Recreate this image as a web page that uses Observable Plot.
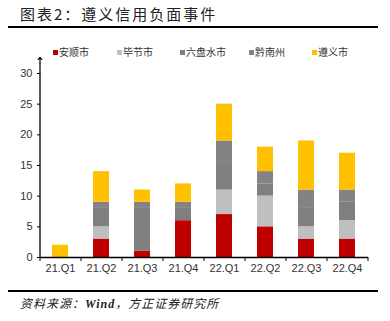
<!DOCTYPE html>
<html><head><meta charset="utf-8">
<script src="https://cdn.jsdelivr.net/npm/d3@7"></script>
<script src="https://cdn.jsdelivr.net/npm/@observablehq/plot@0.6"></script>
<style>
body{margin:0;width:390px;height:321px;position:relative;background:#fff;font-family:"Noto Sans CJK SC","Noto Sans",sans-serif;overflow:hidden}
#title{position:absolute;left:20px;top:3px;font-size:15px;letter-spacing:2px;color:#222;font-family:"Noto Sans CJK SC";}
.hr{position:absolute;left:8px;width:370px;height:2px;background:#000}
#legend{position:absolute;top:45px;left:0;width:390px;height:14px;font-size:10px;color:#333}
.li{position:absolute;top:0;white-space:nowrap;line-height:14px}
.sw{display:inline-block;width:5px;height:5px;margin-right:1px;vertical-align:1px}
#chart{position:absolute;left:0;top:55px}
#src{position:absolute;left:20px;top:294px;font-size:12px;font-style:italic;color:#222;font-family:"Noto Sans CJK SC","Liberation Serif",serif;letter-spacing:1px}
</style></head><body>
<div id="title">图表2：遵义信用负面事件</div>
<div class="hr" style="top:26px"></div>
<div id="legend"></div>
<div id="chart"></div>
<div class="hr" style="top:290px"></div>
<div id="src">资料来源：<span style="font-family:'Liberation Serif';font-weight:bold">Wind</span>，方正证券研究所</div>
<script>
const quarters = ["21.Q1","21.Q2","21.Q3","21.Q4","22.Q1","22.Q2","22.Q3","22.Q4"];
const seriesNames = ["安顺市","毕节市","六盘水市","黔南州","遵义市"];
const colors = ["#C00000","#BFBFBF","#7F7F7F","#838383","#FFC000"];
const anshun    = [0,3,1,6,7,5,3,3];
const bijie     = [0,2,0,0,4,5,2,3];
const liupanshui= [0,3,7,2,4,2,3,3];
const qiannan   = [0,1,1,1,4,2,3,2];
const zunyi     = [2,5,2,3,6,4,8,6];
const yTicks = [0,5,10,15,20,25,30];
const legendX = [53,117,180,249,312];

const seriesVals = [anshun,bijie,liupanshui,qiannan,zunyi];
const data = [];
seriesNames.forEach((s,si)=>quarters.forEach((q,qi)=>{
  if (seriesVals[si][qi] > 0) data.push({q, s, c: colors[si], v: seriesVals[si][qi]});
}));

const leg = document.getElementById("legend");
seriesNames.forEach((s,i)=>{
  const d = document.createElement("div");
  d.className="li"; d.style.left = legendX[i]+"px";
  d.innerHTML = `<span class="sw" style="background:${colors[i]}"></span>${s}`;
  leg.appendChild(d);
});

const step = (368-40)/quarters.length;
const chart = Plot.plot({
  width: 390, height: 225,
  marginLeft: 40, marginRight: 22, marginTop: 18, marginBottom: 23,
  style: {fontFamily: "Liberation Sans, Arial, sans-serif", fontSize: "11px"},
  x: {domain: quarters, paddingInner: 0.6, paddingOuter: 0.3, label: null, axis: null},
  y: {domain: [0,30], label: null, axis: null},
  marks: [
    Plot.barY(data, {x: "q", y: "v", fill: "c", z: "s", order: seriesNames.map((s,i)=>colors[i]) && null}),
    Plot.axisY({ticks: yTicks, tickSize: 3, tickPadding: 5, stroke: "black", fill: "#333", label: null}),
    Plot.ruleX([quarters[0]], {x: d => d, y1: 0, y2: 30, dx: -step/2, stroke: "black", strokeWidth: 1.3}),
    Plot.vector([quarters[0]], {x: d => d, y: 30, dx: -step/2, anchor: "start", length: 16, rotate: 0, r: 2, stroke: "black", strokeWidth: 1.2}),
    Plot.ruleY([0], {stroke: "black", strokeWidth: 1.3}),
    Plot.axisX({ticks: quarters, tickSize: 4, tickFormat: () => "", dx: -step/2, stroke: "black"}),
    Plot.axisX({ticks: quarters.slice(-1), tickSize: 4, tickFormat: () => "", dx: step/2, stroke: "black"}),
    Plot.axisX({ticks: quarters, tickSize: 0, tickPadding: 7, fill: "#333", label: null})
  ]
});
document.getElementById("chart").appendChild(chart);
</script>
</body></html>
